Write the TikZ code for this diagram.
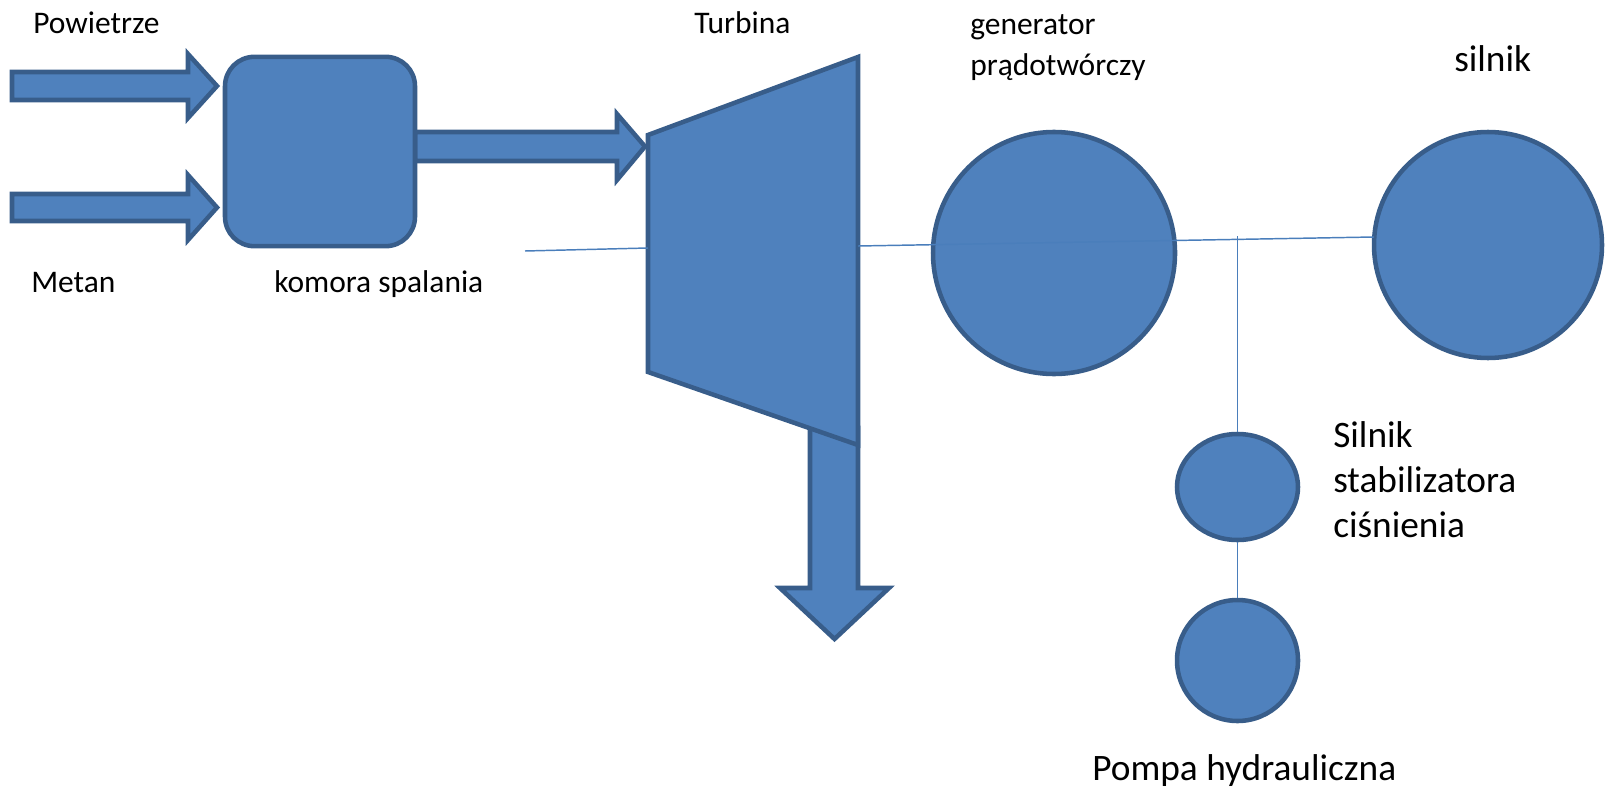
\documentclass[tikz,border=0pt]{standalone}
\usepackage{fontspec}
\setmainfont{Carlito}
\usetikzlibrary{positioning,shapes.geometric}
\definecolor{partfill}{HTML}{4F81BD}
\definecolor{partline}{HTML}{385D8A}
\definecolor{shaftline}{HTML}{4A7EBB}
\tikzset{
 part/.style={
 fill=partfill,
 draw=partline,
 line width=3.4pt,
 line join=miter
 },
 blockarrow/.style={part},
 machine/.style={ellipse, part, inner sep=0pt},
 shaft/.style={draw=shaftline, line width=1.1pt},
 lbl/.style={
 inner sep=0pt,
 anchor=base west,
 align=left,
 font=\fontsize{23.6}{30.8}\selectfont
 },
 biglbl/.style={lbl, font=\fontsize{28}{33.4}\selectfont}
}

\begin{document}
\begin{tikzpicture}[x=0.75pt, y=-0.75pt]
 \useasboundingbox (0,0) rectangle (1608,788);

 % block arrows (inputs, flue gas, exhaust)
 \draw[blockarrow] (12,72) -- (188,72) -- (188,54) -- (217,86) -- (188,118) -- (188,100) -- (12,100) -- cycle;
 \draw[blockarrow] (12,194) -- (188,194) -- (188,175) -- (217,207.5) -- (188,240) -- (188,221) -- (12,221) -- cycle;
 \draw[blockarrow] (415,132) -- (617,132) -- (617,114) -- (645,146.5) -- (617,180) -- (617,161) -- (415,161) -- cycle;
 \draw[blockarrow] (810,428) -- (858,428) -- (858,588) -- (889,588) -- (834.5,639) -- (780,588) -- (810,588) -- cycle;

 \node[part, rectangle, rounded corners=22pt, minimum width=142.5pt, minimum height=142pt, inner sep=0pt] (comb) at (320,151.5) {};

 % turbine
 \draw[part] (648,135) -- (858,57) -- (858,445) -- (648,372) -- cycle;
 \coordinate (turbin) at (648,248);
 \coordinate (turbout) at (858,246);

 \node[machine, minimum width=181.5pt, minimum height=181.5pt] (gen) at (1054,253) {};
 \node[machine, minimum width=171pt, minimum height=169.5pt] (motor) at (1488,245) {};
 \node[machine, minimum width=90.75pt, minimum height=79.5pt] (stab) at (1237.5,487) {};
 \node[machine, minimum width=90.75pt, minimum height=90.75pt] (pump) at (1237.5,660.5) {};

 % shafts
 \coordinate (shaftin) at (525,251);
 \coordinate (motorin) at (1374,237);
 \coordinate (branch) at (1237.5,236);
 \draw[shaft] (shaftin) -- (turbin);
 \draw[shaft] (turbout) -- (motorin);
 \draw[shaft] (branch) -- (stab.north);
 \draw[shaft] (stab.south) -- (pump.north);

 % labels
 \node[lbl] (airlbl) at (33,34) {Powietrze};
 \node[lbl] (methlbl) at (31,292) {Metan};
 \node[lbl] (comblbl) at (274,292) {komora spalania};
 \node[lbl] (turblbl) at (694,34) {Turbina};
 \node[lbl] (genlbl) at (970,76) {generator\\prądotwórczy};
 \node[biglbl] (motorlbl) at (1454,72) {silnik};
 \node[biglbl] (stablbl) at (1333,537) {Silnik\\stabilizatora\\ciśnienia};
 \node[biglbl] (pumplbl) at (1092,780) {Pompa hydrauliczna};
\end{tikzpicture}
\end{document}
